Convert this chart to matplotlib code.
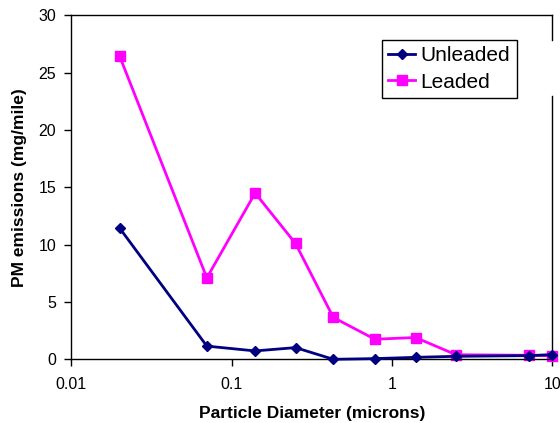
import matplotlib
matplotlib.use("Agg")
import matplotlib.pyplot as plt

plt.rcParams['font.family'] = ['Liberation Sans', 'DejaVu Sans']

# particle diameter (microns)
diameter = [0.02, 0.07, 0.14, 0.25, 0.43, 0.78, 1.4, 2.5, 7.1, 10]
unleaded = [11.45, 1.15, 0.73, 1.02, 0.0, 0.06, 0.17, 0.26, 0.32, 0.41]
leaded = [26.45, 7.1, 14.5, 10.1, 3.65, 1.75, 1.9, 0.4, 0.35, 0.3]

x_ticks = [0.01, 0.1, 1, 10]
x_labels = ["0.01", "0.1", "1", "10"]
y_ticks = [0, 5, 10, 15, 20, 25, 30]

fig = plt.figure(figsize=(5.6, 4.23), dpi=100)
ax = fig.add_axes([0.1273, 0.1506, 0.8593, 0.8132])

ax.plot(diameter, unleaded, color="#000080", marker="D", markersize=5.5,
        linewidth=2, label="Unleaded", clip_on=False, zorder=3)
ax.plot(diameter, leaded, color="#FF00FF", marker="s", markersize=7,
        linewidth=2, label="Leaded", clip_on=False, zorder=2)

ax.set_xscale("log")
ax.set_xlim(0.01, 10)
ax.set_ylim(0, 30)
ax.set_xticks(x_ticks)
ax.set_xticklabels(x_labels)
ax.set_yticks(y_ticks)
ax.minorticks_off()
ax.tick_params(direction="out", length=5, width=1, labelsize=11.5, pad=6)
ax.tick_params(axis="x", pad=8)

ax.set_xlabel("Particle Diameter (microns)", fontsize=12.5, fontweight="bold", labelpad=10)
ax.set_ylabel("PM emissions (mg/mile)", fontsize=12.5, fontweight="bold", labelpad=8)

for s in ax.spines.values():
    s.set_linewidth(1)
    s.set_color("black")

# right border is broken where the legend sits
ax.spines["right"].set_visible(False)
ax.plot([1, 1], [0, 0.765], transform=ax.transAxes, color="black", lw=1, clip_on=False)
ax.plot([1, 1], [0.928, 1], transform=ax.transAxes, color="black", lw=1, clip_on=False)

leg = ax.legend(loc="upper left", bbox_to_anchor=(0.646, 0.928), fontsize=15,
                frameon=True, fancybox=False, edgecolor="black", framealpha=1,
                handlelength=1.3, handletextpad=0.25, borderpad=0.3,
                labelspacing=0.35, borderaxespad=0)
leg.get_frame().set_linewidth(1)

fig.savefig("out.png", dpi=100)
